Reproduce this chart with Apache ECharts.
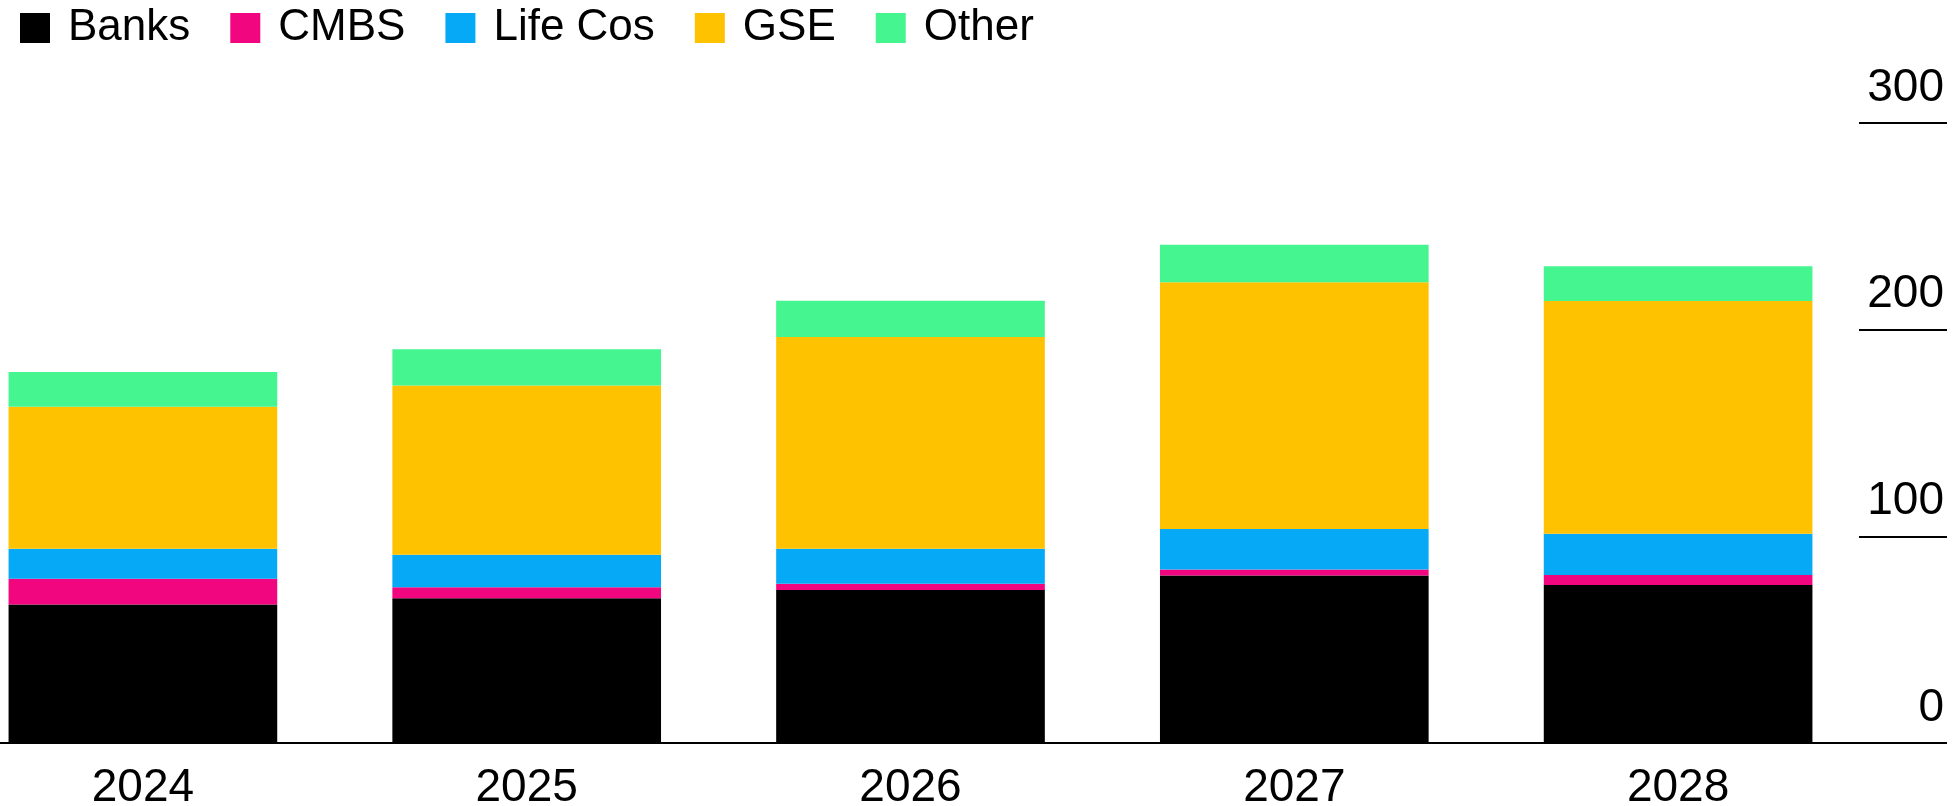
<!DOCTYPE html>
<html>
<head>
<meta charset="utf-8">
<script src="https://cdn.jsdelivr.net/npm/echarts@6/dist/echarts.min.js"></script>
<style>
html,body{margin:0;padding:0;background:#fff;}
#chart{width:1954px;height:806px;}
</style>
</head>
<body>
<div id="chart"></div>
<script>
const years = ['2024', '2025', '2026', '2027', '2028'];
const banks = [67, 70, 74, 81, 76.5];
const cmbs = [12.5, 5.4, 3, 3, 4.8];
const lifeCos = [14.5, 15.7, 17, 19.5, 19.9];
const gse = [68.7, 81.9, 102.5, 119.5, 112.7];
const other = [16.8, 17.5, 17.5, 18.1, 16.8];
const yTicks = [0, 100, 200, 300];

const seriesDefs = [
  {name: 'Banks', data: banks, color: '#000000'},
  {name: 'CMBS', data: cmbs, color: '#f2067f'},
  {name: 'Life Cos', data: lifeCos, color: '#05a9f6'},
  {name: 'GSE', data: gse, color: '#ffc200'},
  {name: 'Other', data: other, color: '#45f58f'}
];

const font = "'Liberation Sans', Arial, Helvetica, sans-serif";
const chart = echarts.init(document.getElementById('chart'));
chart.setOption({
  animation: false,
  backgroundColor: '#ffffff',
  textStyle: {fontFamily: font},
  legend: {
    left: 15,
    top: 1,
    icon: 'rect',
    itemWidth: 30,
    itemHeight: 30,
    itemGap: 40,
    textStyle: {fontSize: 44, color: '#000', fontFamily: font, padding: [0, 0, 0, 13]},
    data: seriesDefs.map(s => s.name)
  },
  grid: {
    left: -49,
    right: 84,
    top: 123,
    bottom: 63,
    outerBoundsMode: 'none',
    containLabel: false
  },
  xAxis: {
    type: 'category',
    data: years,
    axisLine: {show: true, lineStyle: {color: '#000', width: 2}},
    axisTick: {show: false},
    axisLabel: {fontSize: 46, color: '#000', margin: 22, fontFamily: font}
  },
  yAxis: {
    type: 'value',
    position: 'right',
    offset: -11,
    min: yTicks[0],
    max: yTicks[yTicks.length - 1],
    interval: 100,
    splitLine: {show: false},
    axisLine: {show: false},
    axisTick: {show: true, inside: false, length: 88, lineStyle: {color: '#000', width: 2}},
    axisLabel: {
      fontSize: 46, color: '#000', margin: 85, align: 'right',
      verticalAlign: 'bottom', padding: [0, 0, 12, 0], fontFamily: font
    }
  },
  series: seriesDefs.map(s => ({
    name: s.name,
    type: 'bar',
    stack: 'total',
    data: s.data,
    barCategoryGap: '30%',
    itemStyle: {color: s.color},
    emphasis: {disabled: true}
  }))
});
</script>
</body>
</html>
